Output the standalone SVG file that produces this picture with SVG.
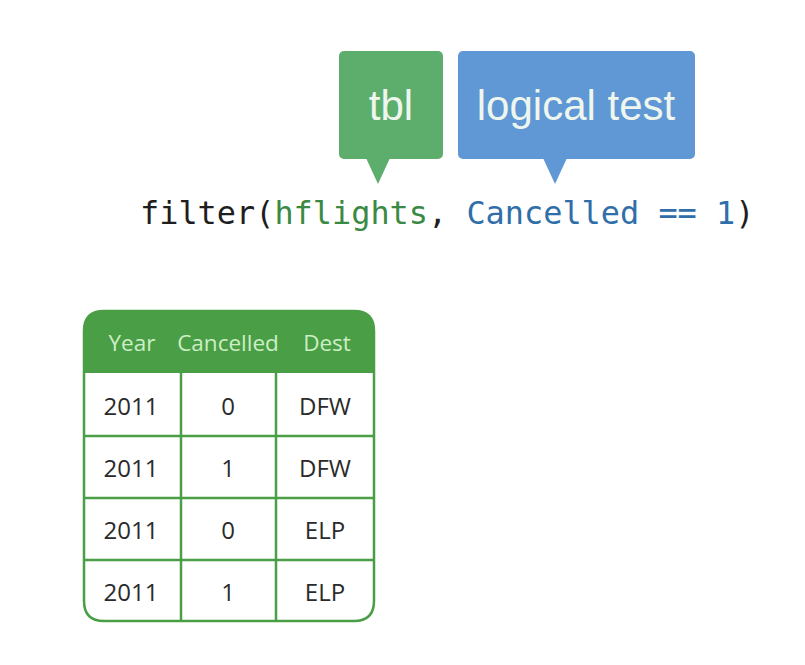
<svg xmlns="http://www.w3.org/2000/svg" width="805" height="665" viewBox="0 0 805 665">
<style>
.lbl{font-family:"Liberation Sans",Arial,sans-serif;font-size:42px;fill:#eef6ee;text-anchor:middle}
.code{font-family:"DejaVu Sans Mono",monospace;font-size:31.9px}
.hdr{font-family:"Open Sans",sans-serif;font-size:22.5px;fill:#cdeec6;text-anchor:middle}
.cell{font-family:"Open Sans",sans-serif;font-size:24px;fill:#2a2a2a;text-anchor:middle}
.grid{stroke:#4a9e45;stroke-width:2.5;fill:none}
</style>
<rect width="805" height="665" fill="#ffffff"/>
<g id="tbl">
<rect x="339" y="51" width="104" height="108" rx="5" fill="#5dae6c"/>
<polygon points="366,158 390,158 378,184" fill="#5dae6c"/>
<text class="lbl" x="391" y="120">tbl</text>
</g>
<g id="logical-test">
<rect x="458" y="51" width="237" height="108" rx="5" fill="#5f98d4"/>
<polygon points="543,158 567,158 555,184" fill="#5f98d4"/>
<text class="lbl" x="576" y="120">logical test</text>
</g>
<g id="code">
<text class="code" x="140" y="224"><tspan fill="#1e1e1e">filter(</tspan><tspan fill="#3b8a44">hflights</tspan><tspan fill="#1e1e1e">, </tspan><tspan fill="#2f6ea9">Cancelled == 1</tspan><tspan fill="#1e1e1e">)</tspan></text>
</g>
<g id="table">
<path d="M84,373 V331 Q84,311 104,311 H354 Q374,311 374,331 V373 Z" fill="#4a9e45"/>
<path class="grid" d="M84,331 Q84,311 104,311 H354 Q374,311 374,331 V601 Q374,621 354,621 H104 Q84,621 84,601 Z"/>
<g class="grid">
<line x1="84" y1="436" x2="374" y2="436"/>
<line x1="84" y1="498" x2="374" y2="498"/>
<line x1="84" y1="560" x2="374" y2="560"/>
<line x1="181" y1="373" x2="181" y2="621"/>
<line x1="276" y1="373" x2="276" y2="621"/>
</g>
<text class="hdr" x="132" y="351">Year</text>
<text class="hdr" x="228" y="351">Cancelled</text>
<text class="hdr" x="327" y="351">Dest</text>
<text class="cell" x="131" y="415">2011</text>
<text class="cell" x="228" y="415">0</text>
<text class="cell" x="325" y="415">DFW</text>
<text class="cell" x="131" y="477">2011</text>
<text class="cell" x="228" y="477">1</text>
<text class="cell" x="325" y="477">DFW</text>
<text class="cell" x="131" y="539">2011</text>
<text class="cell" x="228" y="539">0</text>
<text class="cell" x="325" y="539">ELP</text>
<text class="cell" x="131" y="601">2011</text>
<text class="cell" x="228" y="601">1</text>
<text class="cell" x="325" y="601">ELP</text>
</g>
</svg>
